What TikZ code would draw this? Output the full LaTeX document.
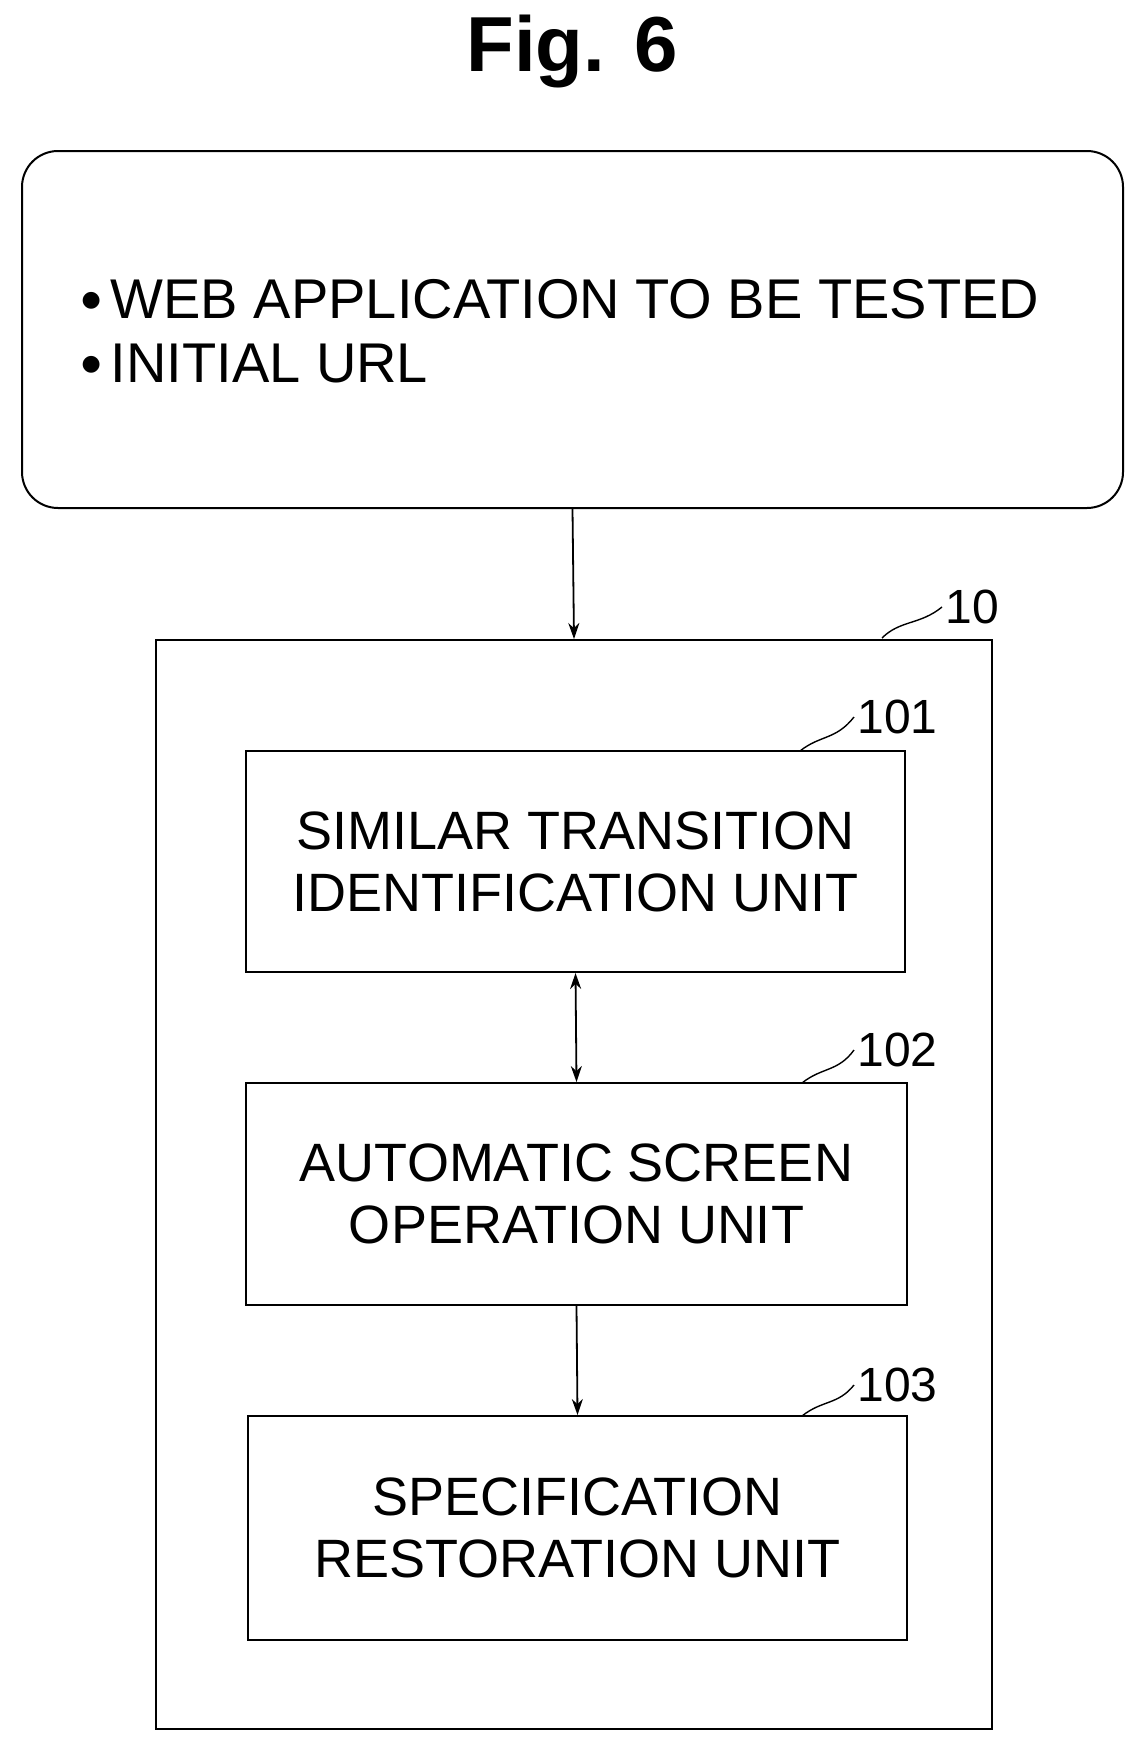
\documentclass[tikz,border=0pt]{standalone}
\usetikzlibrary{arrows.meta}
\usepackage{fontspec}
\setmainfont{Liberation Sans}
\newfontfamily\symfont{DejaVu Sans}
\begin{document}
\begin{tikzpicture}[x=1pt,y=-1pt,
  unit/.style={draw,line width=2pt,inner sep=0pt,align=center,font=\fontsize{54}{62}\selectfont},
  lbl/.style={font=\fontsize{48}{52}\selectfont},
  conn/.style={line width=1.8pt,-{Stealth[length=16pt,width=11pt]}},
  lead/.style={line width=1.4pt}]
\useasboundingbox (0,0) rectangle (1144,1748);
\node[font=\bfseries\fontsize{78}{88}\selectfont] (title) at (572,52) {Fig. 6};
\node[draw,line width=2pt,rounded corners=36pt,minimum width=1101pt,minimum height=357pt,inner sep=0pt] (in) at (572.5,329.5) {};
\node[anchor=west,align=left,font=\fontsize{56}{64}\selectfont] (intext) at (78,331)
  {\raisebox{12pt}{\symfont\fontsize{22}{26}\selectfont ●}\hspace{10pt}WEB APPLICATION TO BE TESTED\\
   \raisebox{12pt}{\symfont\fontsize{22}{26}\selectfont ●}\hspace{10pt}INITIAL URL};
\node[draw,line width=2pt,minimum width=836pt,minimum height=1089pt,inner sep=0pt] (sys) at (574,1184.5) {};
\node[unit,minimum width=659pt,minimum height=221pt] (u1) at (575.5,861.5) {SIMILAR TRANSITION\\IDENTIFICATION UNIT};
\node[unit,minimum width=661pt,minimum height=222pt] (u2) at (576.5,1194) {AUTOMATIC SCREEN\\OPERATION UNIT};
\node[unit,minimum width=659pt,minimum height=224pt] (u3) at (577.5,1528) {SPECIFICATION\\RESTORATION UNIT};
\draw[conn] (in.south) -- (sys.north);
\draw[conn,{Stealth[length=16pt,width=11pt]}-{Stealth[length=16pt,width=11pt]}] (u1.south) -- (u2.north);
\draw[conn] (u2.south) -- (u3.north);
\node[lbl,anchor=west] (l10) at (942,607) {10};
\node[lbl,anchor=west] (l101) at (854,717) {101};
\node[lbl,anchor=west] (l102) at (854,1050) {102};
\node[lbl,anchor=west] (l103) at (854,1385) {103};
\draw[lead] (882,638) .. controls (900,620) and (920,625) .. (l10.west);
\draw[lead] (800,751) .. controls (820,735) and (836,740) .. (l101.west);
\draw[lead] (802,1083) .. controls (822,1067) and (838,1072) .. (l102.west);
\draw[lead] (802,1416) .. controls (822,1400) and (838,1405) .. (l103.west);
\end{tikzpicture}
\end{document}
